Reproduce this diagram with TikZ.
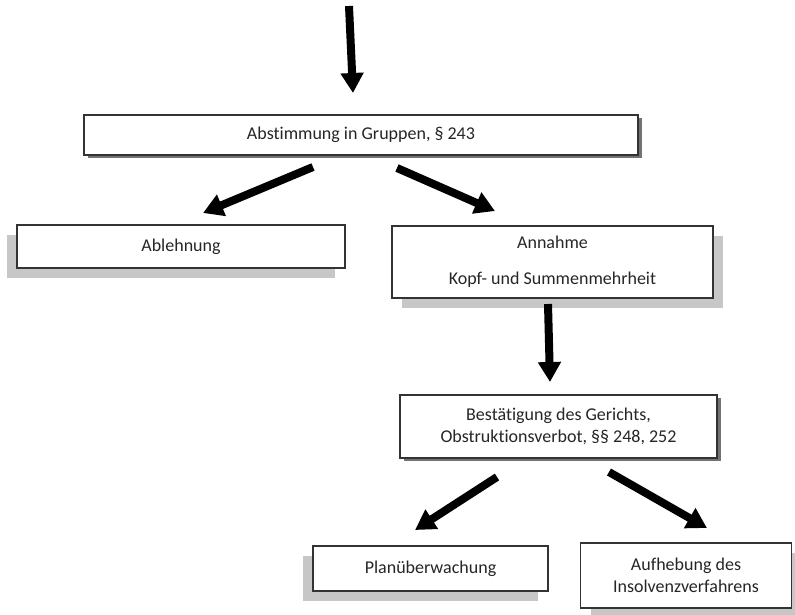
\documentclass[tikz,border=0pt]{standalone}
\usepackage{fontspec}
\setmainfont[Ligatures=NoCommon]{Carlito}
\usetikzlibrary{arrows.meta,positioning,calc,shadows}

\begin{document}
\begin{tikzpicture}[x=1pt,y=-1pt,
      box/.style={
        rectangle,
        draw=black!80,
        line width=1.2pt,
        fill=white,
        text=black!85,
        align=center,
        inner sep=0pt,
        font=\fontsize{18}{22}\selectfont
      },
      darkshadow/.style={drop shadow={shadow xshift=4pt, shadow yshift=-3pt, fill=black!55, opacity=1}},
      leftshadow/.style={drop shadow={shadow xshift=-10pt, shadow yshift=-10pt, fill=black!22, opacity=1}},
      rightshadow/.style={drop shadow={shadow xshift=10pt, shadow yshift=-10pt, fill=black!22, opacity=1}},
      arrow/.style={line width=8pt,-{Triangle[width=22pt,length=20pt]}}
    ]
    \useasboundingbox (0,0) rectangle (795,614);

    % Voting and first decision
    \node[box,darkshadow,minimum width=554pt,minimum height=40pt] (abst) at (361,135) {Abstimmung in Gruppen, § 243};
    \node[box,leftshadow,minimum width=328pt,minimum height=43pt] (abl) at (181,246.5) {Ablehnung};
    \node[box,rightshadow,minimum width=321pt,minimum height=72pt] (ann) at (552.5,262) {Annahme\\[14pt]Kopf- und Summenmehrheit};

    % Court confirmation and outcome
    \node[box,darkshadow,minimum width=317pt,minimum height=63pt] (best) at (558.5,426.5) {Bestätigung des Gerichts,\\Obstruktionsverbot, §§ 248, 252};
    \node[box,leftshadow,minimum width=235pt,minimum height=45pt] (plan) at (430.5,568.5) {Planüberwachung};
    \node[box,rightshadow,minimum width=211pt,minimum height=65pt] (aufh) at (686,575.5) {Aufhebung des\\Insolvenzverfahrens};

    % Arrow ends
    \coordinate (top) at (349,6);
    \coordinate (abst-in) at (353,93);
    \coordinate (abst-l) at (313,167);
    \coordinate (abl-in) at (203,213);
    \coordinate (abst-r) at (397,168);
    \coordinate (ann-in) at (495,211);
    \coordinate (ann-out) at (548,304);
    \coordinate (best-in) at (550,382);
    \coordinate (best-l) at (497,477);
    \coordinate (plan-in) at (415,530);
    \coordinate (best-r) at (609,472);
    \coordinate (aufh-in) at (707,528);

    \draw[arrow] (top) -- (abst-in);
    \draw[arrow] (abst-l) -- (abl-in);
    \draw[arrow] (abst-r) -- (ann-in);
    \draw[arrow] (ann-out) -- (best-in);
    \draw[arrow] (best-l) -- (plan-in);
    \draw[arrow] (best-r) -- (aufh-in);
  \end{tikzpicture}
\end{document}
